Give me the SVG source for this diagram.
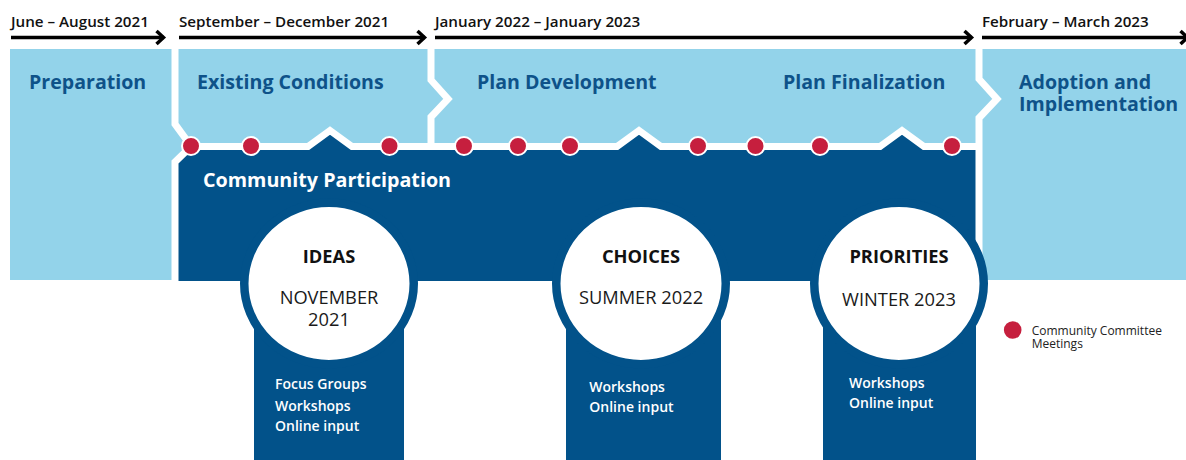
<svg xmlns="http://www.w3.org/2000/svg" width="1186" height="460" viewBox="0 0 1186 460">
  <defs>
    <style>
      .lb { fill: #93D3EA; }
      .dk { fill: #02528A; }
      .sep { fill: none; stroke: #FFFFFF; stroke-width: 7; stroke-linejoin: miter; }
      .arrow { stroke: #000000; stroke-width: 3.5; fill: none; }
      .date { font-family: "Open Sans", "Liberation Sans", sans-serif; font-weight: 600; font-size: 15.2px; fill: #111111; }
      .phase { font-family: "Open Sans", "Liberation Sans", sans-serif; font-weight: 700; font-size: 19.6px; fill: #0E5289; }
      .cp { font-family: "Open Sans", "Liberation Sans", sans-serif; font-weight: 700; font-size: 19.7px; fill: #FFFFFF; }
      .ring { fill: #FFFFFF; stroke: #02528A; stroke-width: 8.5; }
      .ctitle { font-family: "Open Sans", "Liberation Sans", sans-serif; font-weight: 700; font-size: 18.3px; fill: #111111; text-anchor: middle; }
      .cdate { font-family: "Open Sans", "Liberation Sans", sans-serif; font-weight: 400; font-size: 18.3px; fill: #1A1A1A; text-anchor: middle; }
      .tab { font-family: "Open Sans", "Liberation Sans", sans-serif; font-weight: 600; font-size: 14px; fill: #FFFFFF; }
      .dot { fill: #C61F3E; stroke: #FFFFFF; stroke-width: 2; }
      .legend { font-family: "Open Sans", "Liberation Sans", sans-serif; font-weight: 400; font-size: 12px; fill: #222222; }
    </style>
    <marker id="ah" markerUnits="userSpaceOnUse" markerWidth="16" markerHeight="20" viewBox="0 0 16 20" refX="11" refY="10" orient="auto">
      <path d="M3.5,3.5 L10.5,10 L3.5,16.5" fill="none" stroke="#000000" stroke-width="3.5"/>
    </marker>
  </defs>

  <!-- background bands -->
  <rect class="lb" x="10" y="49" width="1176" height="231"/>

  <!-- connectors: timeline arrows -->
  <g id="connectors">
    <line class="arrow" x1="11" y1="37.5" x2="164" y2="37.5" marker-end="url(#ah)"/>
    <line class="arrow" x1="179" y1="37.5" x2="425" y2="37.5" marker-end="url(#ah)"/>
    <line class="arrow" x1="435" y1="37.5" x2="972" y2="37.5" marker-end="url(#ah)"/>
    <line class="arrow" x1="982" y1="37.5" x2="1188" y2="37.5" marker-end="url(#ah)"/>
  </g>

  <!-- date labels -->
  <g id="dates">
    <text class="date" x="11" y="26.5">June – August 2021</text>
    <text class="date" x="179" y="26.5">September – December 2021</text>
    <text class="date" x="435" y="26.5">January 2022 – January 2023</text>
    <text class="date" x="982" y="26.5">February – March 2023</text>
  </g>

  <!-- community participation band -->
  <g id="community-participation">
    <path class="dk" d="M175,281 L175,162 L191,146.5 L308,146.5 L330,130.5 L352,146.5 L617,146.5 L639,130.5 L661,146.5 L880,146.5 L902,130.5 L924,146.5 L979,146.5 L979,281 Z"/>
    <polyline class="sep" points="175,282 175,162 191,146.5 308,146.5 330,130.5 352,146.5 617,146.5 639,130.5 661,146.5 880,146.5 902,130.5 924,146.5 979,146.5"/>
    <text class="cp" x="203" y="186.5">Community Participation</text>
  </g>

  <!-- phase separators -->
  <g id="separators">
    <polyline class="sep" points="175,46 175,124 191,146"/>
    <polyline class="sep" points="431,46 431,80 448,99 431,117 431,147"/>
    <polyline class="sep" points="979,46 979,79 997,99 979,118 979,282"/>
  </g>

  <!-- phases -->
  <g id="phase-preparation"><text class="phase" x="29" y="89">Preparation</text></g>
  <g id="phase-existing-conditions"><text class="phase" x="197" y="89">Existing Conditions</text></g>
  <g id="phase-plan-development"><text class="phase" x="477" y="89">Plan Development</text></g>
  <g id="phase-plan-finalization"><text class="phase" x="783" y="89">Plan Finalization</text></g>
  <g id="phase-adoption"><text class="phase" x="1019" y="89">Adoption and</text><text class="phase" x="1019" y="111">Implementation</text></g>

  <!-- meeting dots -->
  <g id="meetings">
    <circle class="dot" cx="191" cy="146" r="9"/>
    <circle class="dot" cx="251" cy="146" r="9"/>
    <circle class="dot" cx="389.5" cy="146" r="9"/>
    <circle class="dot" cx="464" cy="146" r="9"/>
    <circle class="dot" cx="518" cy="146" r="9"/>
    <circle class="dot" cx="570" cy="146" r="9"/>
    <circle class="dot" cx="698" cy="146" r="9"/>
    <circle class="dot" cx="755.5" cy="146" r="9"/>
    <circle class="dot" cx="820" cy="146" r="9"/>
    <circle class="dot" cx="952" cy="146" r="9"/>
  </g>

  <!-- engagement nodes -->
  <g id="node-ideas">
    <rect class="dk" x="254" y="281" width="150" height="180"/>
    <ellipse class="ring" cx="329" cy="283.5" rx="84.75" ry="80.75"/>
    <text class="ctitle" x="329" y="262.7">IDEAS</text>
    <text class="cdate" x="329" y="304.3">NOVEMBER</text>
    <text class="cdate" x="329" y="326">2021</text>
    <text class="tab" x="275" y="389.3">Focus Groups</text>
    <text class="tab" x="275" y="410.5">Workshops</text>
    <text class="tab" x="275" y="431">Online input</text>
  </g>
  <g id="node-choices">
    <rect class="dk" x="566" y="281" width="155" height="180"/>
    <ellipse class="ring" cx="641" cy="283.5" rx="84.75" ry="80.75"/>
    <text class="ctitle" x="641" y="262.7">CHOICES</text>
    <text class="cdate" x="641" y="304.3">SUMMER 2022</text>
    <text class="tab" x="589.3" y="392.3">Workshops</text>
    <text class="tab" x="589.3" y="412.3">Online input</text>
  </g>
  <g id="node-priorities">
    <rect class="dk" x="823" y="281" width="153" height="180"/>
    <ellipse class="ring" cx="899" cy="283.5" rx="84.75" ry="80.75"/>
    <text class="ctitle" x="899" y="263.3">PRIORITIES</text>
    <text class="cdate" x="899" y="306">WINTER 2023</text>
    <text class="tab" x="849" y="388.3">Workshops</text>
    <text class="tab" x="849" y="408.3">Online input</text>
  </g>

  <!-- legend -->
  <g id="legend">
    <circle cx="1012.7" cy="330" r="8.8" fill="#C61F3E"/>
    <text class="legend" x="1031.7" y="335">Community Committee</text>
    <text class="legend" x="1031.7" y="347.5">Meetings</text>
  </g>
</svg>
